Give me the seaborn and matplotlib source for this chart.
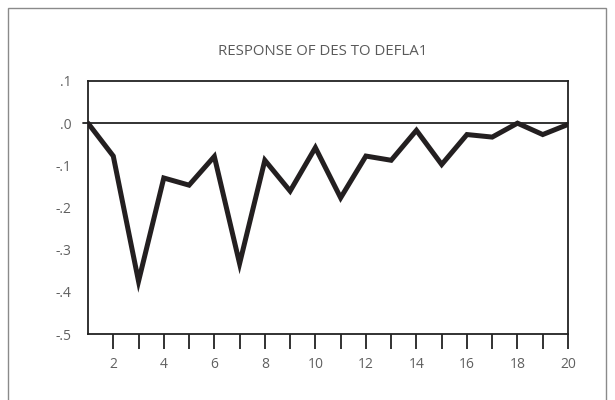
import matplotlib
matplotlib.use("Agg")
import matplotlib.pyplot as plt
import seaborn as sns
import pandas as pd
from matplotlib.patches import Rectangle

# Impulse response of DES to a shock in DEFLA1, periods 1..20
periods = list(range(1, 21))
response = [0.000, -0.078, -0.375, -0.130, -0.147, -0.079, -0.333, -0.088, -0.161, -0.058,
            -0.177, -0.078, -0.088, -0.017, -0.098, -0.027, -0.033, 0.000, -0.027, -0.003]
y_ticks = [0.1, 0.0, -0.1, -0.2, -0.3, -0.4, -0.5]
y_tick_labels = [".1", ".0", "-.1", "-.2", "-.3", "-.4", "-.5"]
x_label_ticks = [2, 4, 6, 8, 10, 12, 14, 16, 18, 20]
title = "RESPONSE OF DES TO DEFLA1"

sns.set_theme(style="white")
plt.rcParams["font.family"] = ["Open Sans", "DejaVu Sans"]

df = pd.DataFrame({"period": periods, "response": response})

fig = plt.figure(figsize=(6.15, 4.0), dpi=100)
ax = fig.add_axes([0.1431, 0.165, 0.7805, 0.6325])

# outer panel frame
fig.patches.append(Rectangle((7.5 / 615, -0.05), (606 - 7.5) / 615, (392.5 + 20) / 400,
                             transform=fig.transFigure, fill=False,
                             edgecolor="#8a8a8a", linewidth=1.0))

ax.axhline(0, xmin=-0.011, xmax=1, color="#222222", linewidth=1.3, clip_on=False, zorder=1)
sns.lineplot(data=df, x="period", y="response", ax=ax, color="#231f20",
             linewidth=3.6, solid_joinstyle="miter", zorder=3)

ax.set_xlim(1, 20)
ax.set_ylim(-0.5, 0.1)
ax.set_xlabel("")
ax.set_ylabel("")

ax.set_yticks(y_ticks)
ax.set_yticklabels(y_tick_labels)
ax.set_xticks(periods[1:], minor=True)
ax.set_xticks(x_label_ticks)
ax.set_xticklabels([str(t) for t in x_label_ticks])

ax.tick_params(axis="y", length=0, pad=12, labelsize=10, labelcolor="#606060")
ax.tick_params(axis="x", which="both", direction="out", length=10.5, width=1.3,
               color="#222222", bottom=True, pad=6, labelsize=10, labelcolor="#606060")
ax.tick_params(axis="x", which="minor", labelbottom=False)

for s in ax.spines.values():
    s.set_visible(True)
    s.set_color("#222222")
    s.set_linewidth(1.3)

fig.text(0.524, 0.871, title, ha="center", va="center", fontsize=10.8, color="#5a5a5a")

fig.savefig("out.png", dpi=100)
